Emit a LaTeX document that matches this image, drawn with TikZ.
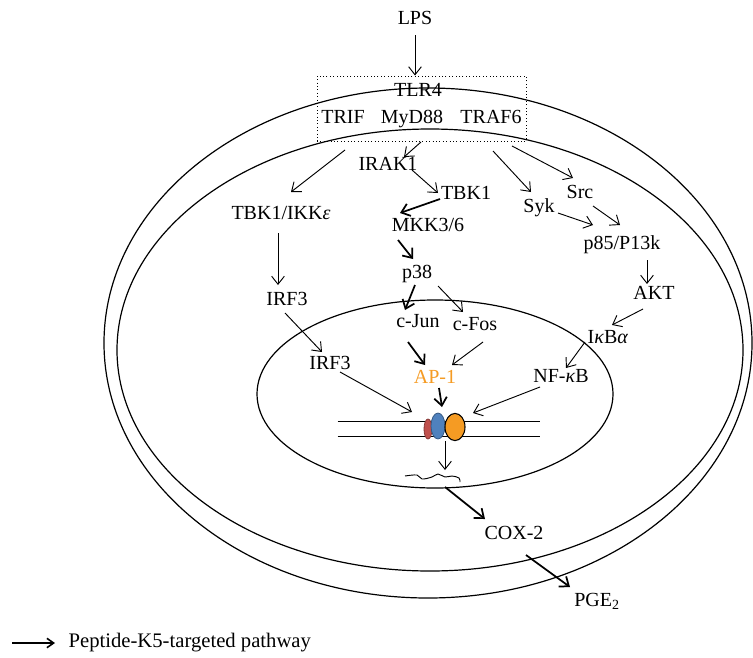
\documentclass[tikz,border=0pt]{standalone}
\usepackage{fontspec}
\setmainfont{Liberation Serif}
\usetikzlibrary{arrows.meta,calc}
\definecolor{apo}{HTML}{F59B23}
\definecolor{redp}{HTML}{C0504D}
\definecolor{bluep}{HTML}{4F81BD}
\tikzset{%
   lbl/.style={font=\fontsize{15}{18}\selectfont, text height=10pt, text depth=0pt, inner sep=1pt},
   arr/.style={-{Straight Barb[length=6pt,width=9.5pt]}, line width=0.7pt},
   tarr/.style={arr, line width=1.3pt},
   memb/.style={line width=0.9pt},
}

\begin{document}
\begin{tikzpicture}[x=0.75pt, y=-0.75pt, every node/.style={lbl}]
\useasboundingbox (0,0) rectangle (753,657);
\draw[memb] (428,343) ellipse [x radius=243pt, y radius=191.25pt];
\draw[memb] (430,350) ellipse [x radius=234.75pt, y radius=165.75pt];
\draw[memb] (435,394) ellipse [x radius=133.5pt, y radius=70.5pt];

\node (lps) at (415,18) {LPS};
\node (rcpt) [draw, line width=0.75pt, dash pattern=on 0.75pt off 1.8pt, minimum width=156.75pt, minimum height=48.75pt, inner sep=0pt] at (421.5,108.5) {};
\node (tlr) at (418,90) {TLR4};
\node (trif) at (343,117) {TRIF};
\node (myd) at (412,117) {MyD88};
\node (traf) at (491,117) {TRAF6};
\node (irak) at (388,164) {IRAK1};
\node (tbk) at (466,193) {TBK1};
\node (tbki) at (281,213) {TBK1/IKK\textit{ε}};
\node (mkk) at (428,225) {MKK3/6};
\node (pp) at (417,272) {p38};
\node (irfa) at (287,299) {IRF3};
\node (syk) at (539,206) {Syk};
\node (src) at (580,192) {Src};
\node (pik) at (622,243) {p85/P13k};
\node (akt) at (654,293) {AKT};
\node (ikb) at (608,337) {I\textit{κ}B\textit{α}};
\node (nfkb) at (561,376) {NF-\textit{κ}B};
\node (cjun) at (418,321) {c-Jun};
\node (cfos) at (475,324) {c-Fos};
\node (irfb) at (330,363) {IRF3};
\node[text=apo] (ap) at (435,377) {AP-1};
\node (cox) at (514,533) {COX-2};
\node (pge) at (597,600) {PGE\textsubscript{2}};

\node (dna) [minimum width=151.5pt, minimum height=10.5pt, inner sep=0pt] at (439,429) {};
\draw[line width=0.8pt] (dna.north west) -- (dna.north east);
\draw[line width=0.8pt] (dna.south west) -- (dna.south east);
\draw[draw=redp!70!black, fill=redp, line width=0.6pt] (428,429) ellipse [x radius=3pt, y radius=7.5pt];
\draw[draw=bluep!70!black, fill=bluep, line width=0.6pt] (438,426) ellipse [x radius=5.25pt, y radius=9.75pt];
\draw[fill=apo, line width=0.8pt] (455,427) ellipse [x radius=7.5pt, y radius=10.2pt];
\coordinate (mrna) at (432,477);
\draw[line width=0.7pt] plot[smooth, tension=0.6] coordinates {(405,476) (417,475) (422,479) (432,477) (438,474) (445,477) (452,476) (459,478) (460,482)};

\draw[arr] ($(lps)+(0,17)$) -- (lps |- rcpt.north);
\draw[arr] ($(myd)+(9,25)$) -- ($(irak)+(16,-7)$);
\draw[arr] ($(trif)+(2,33)$) -- ($(tbki)+(10,-21)$);
\draw[arr] ($(irak)+(24,6)$) -- ($(tbk)+(-28,0)$);
\draw[tarr] ($(tbk)+(-26,6)$) -- ($(mkk)+(-28,-12)$);
\draw[tarr] ($(mkk)+(-30,15)$) -- ($(pp)+(-4,-13)$);
\draw[tarr] ($(pp)+(-2,13)$) -- ($(cjun)+(-13,-11)$);
\draw[arr] ($(pp)+(21,14)$) -- ($(cfos)+(-12,-12)$);
\draw[tarr] ($(cjun)+(-10,21)$) -- ($(ap)+(-10,-12)$);
\draw[arr] ($(cfos)+(8,18)$) -- ($(ap)+(17,-12)$);
\draw[arr] ($(tbki)+(-3,20)$) -- ($(irfa)+(-9,-14)$);
\draw[arr] ($(irfa)+(-2,14)$) -- ($(irfb)+(-8,-11)$);
\draw[arr] ($(irfb)+(10,9)$) -- ($(dna)+(-27,-17)$);
\draw[tarr] ($(ap)+(4,11)$) -- ($(dna)+(3,-22)$);
\draw[arr] ($(nfkb)+(-21,11)$) -- ($(dna)+(34,-16)$);
\draw[arr] ($(dna)+(6,12)$) -- ($(mrna)+(13,-7)$);
\draw[tarr] ($(mrna)+(13,10)$) -- ($(cox)+(-29,-14)$);
\draw[tarr] ($(cox)+(12,22)$) -- ($(pge)+(-27,-13)$);
\draw[arr] ($(traf)+(2,34)$) -- ($(syk)+(-8,-14)$);
\draw[arr] ($(traf)+(21,29)$) -- ($(src)+(-7,-14)$);
\draw[arr] ($(syk)+(19,7)$) -- ($(pik)+(-29,-18)$);
\draw[arr] ($(src)+(13,14)$) -- ($(pik)+(-2,-18)$);
\draw[arr] ($(pik)+(25,17)$) -- ($(akt)+(-7,-9)$);
\draw[arr] ($(akt)+(-11,16)$) -- ($(ikb)+(4,-12)$);
\draw[arr] ($(ikb)+(-23,5)$) -- ($(nfkb)+(5,-8)$);

\node[anchor=west, font=\fontsize{15.5}{18}\selectfont] (leg) at (67,641) {Peptide-K5-targeted pathway};
\draw[-{Straight Barb[length=5pt,width=7pt]}, line width=1.2pt] ($(leg.west)+(-55,2)$) -- ($(leg.west)+(-12,2)$);
\end{tikzpicture}
\end{document}
